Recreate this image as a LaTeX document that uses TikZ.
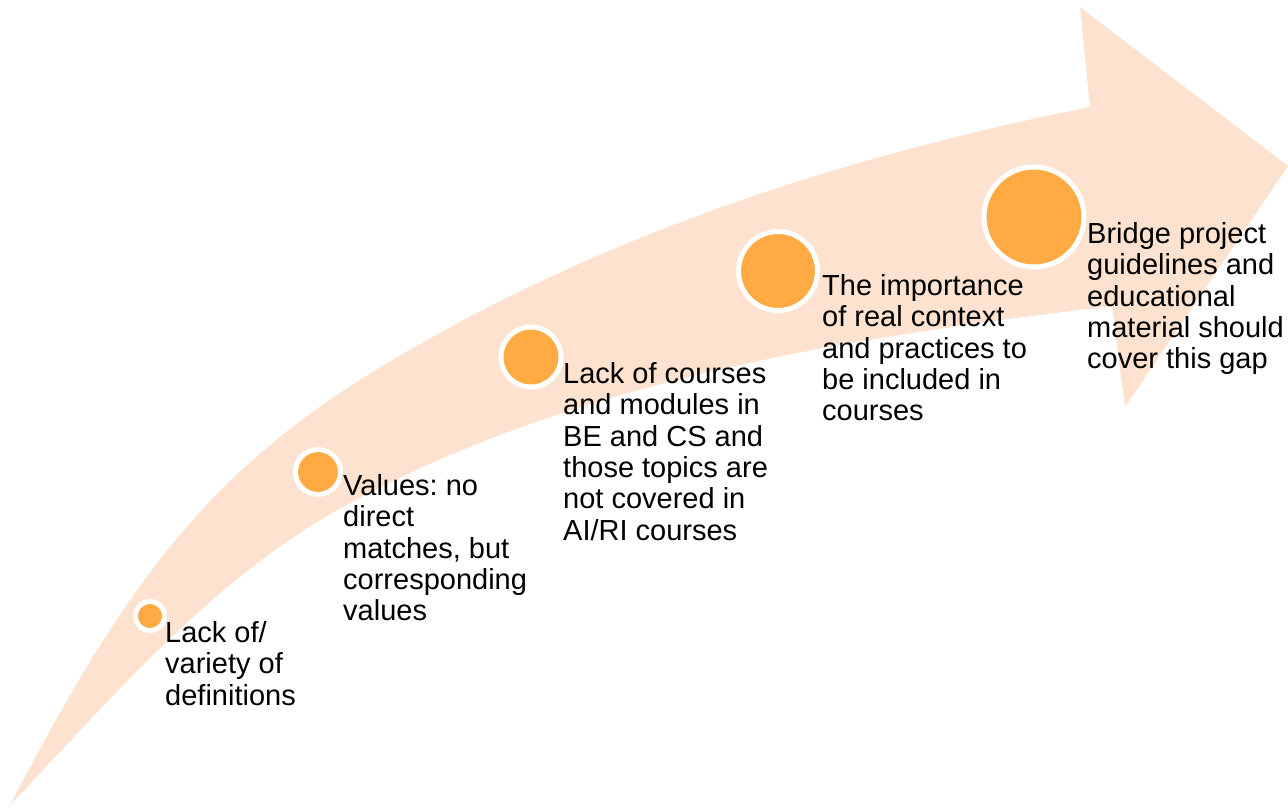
\documentclass[tikz,border=0pt]{standalone}
\usepackage{fontspec}
\setmainfont{Liberation Sans}
\frenchspacing
\definecolor{band}{HTML}{FDE2CF}
\definecolor{dot}{HTML}{FFAA42}
\begin{document}
\begin{tikzpicture}[x=1pt,y=-1pt,
  dotnode/.style={circle,fill=dot,draw=white,line width=5pt,inner sep=0pt},
  label/.style={anchor=north west,inner sep=0pt,align=left,
    font=\fontsize{29}{31.4}\selectfont,text=black}]
\useasboundingbox (0,0) rectangle (1288,807);
% curved arrow
\fill[band] (10,805) .. controls (112.5,610) and (191,486.6) .. (360,380)
  .. controls (580,241.4) and (835,158) .. (1090,107)
  -- (1080,7) -- (1288,166) -- (1125,407) -- (1112,306)
  .. controls (849,337.5) and (575,379.3) .. (343,507)
  .. controls (211.6,579.3) and (113.5,696.4) .. (10,805) -- cycle;
% dots
\node[dotnode,minimum size=29pt] (d1) at (150,616) {};
\node[dotnode,minimum size=45pt] (d2) at (318,472) {};
\node[dotnode,minimum size=60pt] (d3) at (531,357) {};
\node[dotnode,minimum size=79pt] (d4) at (778,271) {};
\node[dotnode,minimum size=100pt] (d5) at (1034,217) {};
% labels
\node[label] (t1) at (165,618) {\rule{0pt}{24pt}Lack of/\\variety of\\definitions};
\node[label] (t2) at (343,471) {\rule{0pt}{24pt}Values: no\\direct\\matches, but\\corresponding\\values};
\node[label] (t3) at (563,359) {\rule{0pt}{24pt}Lack of courses\\and modules in\\BE and CS and\\those topics are\\not covered in\\AI/RI courses};
\node[label] (t4) at (822,271) {\rule{0pt}{24pt}The importance\\of real context\\and practices to\\be included in\\courses};
\node[label] (t5) at (1087,219) {\rule{0pt}{24pt}Bridge project\\guidelines and\\educational\\material should\\cover this gap};
\end{tikzpicture}
\end{document}
